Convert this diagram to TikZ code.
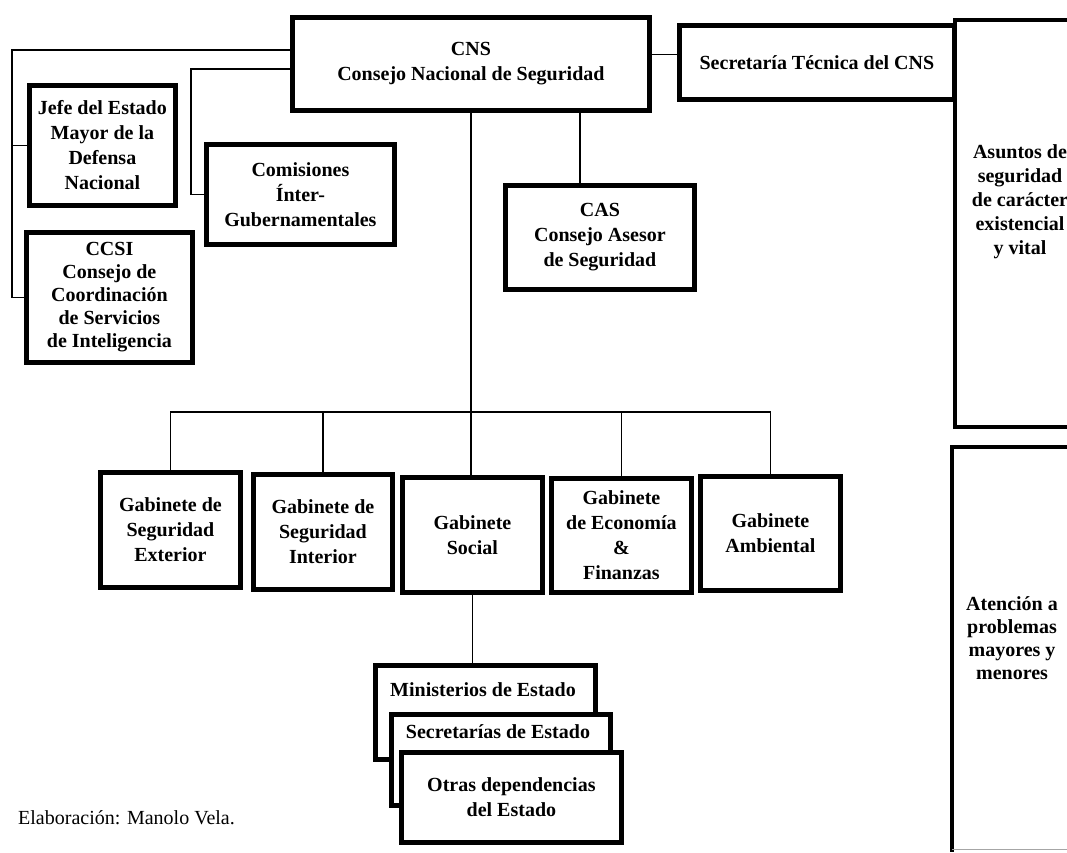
\documentclass[tikz,border=0pt]{standalone}
\usepackage{fontspec}
\setmainfont{Liberation Serif}
\begin{document}
\begin{tikzpicture}[x=1pt,y=-1pt,
  orgbox/.style={draw, line width=4.8pt, fill=white, inner sep=0pt, align=center,
    anchor=north west, font=\fontsize{20}{25}\selectfont\bfseries},
  boxtext/.style={inner sep=0pt, align=center, font=\fontsize{20}{25}\selectfont\bfseries},
  sidetext/.style={inner sep=0pt, align=center, font=\fontsize{20}{24}\selectfont\bfseries},
  sideline/.style={line width=3.4pt},
  link/.style={line width=1.8pt}]
\useasboundingbox (0,0) rectangle (1067,852);
\begin{scope}
\clip (0,0) rectangle (1067,852);

% central council and its staff
\node[orgbox, minimum width=357pt, minimum height=93pt] (cns) at (290,15)
  {CNS\\Consejo Nacional de Seguridad};
\node[orgbox, minimum width=275pt, minimum height=74pt] (sec) at (677,23)
  {Secretaría Técnica del CNS};
\node[orgbox, minimum width=189pt, minimum height=104pt] (cas) at (503,183)
  {CAS\\Consejo Asesor\\de Seguridad};

% left-hand bodies
\node[orgbox, minimum width=146pt, minimum height=120pt] (jefe) at (27,83)
  {Jefe del Estado\\Mayor de la\\Defensa\\Nacional};
\node[orgbox, minimum width=166pt, minimum height=130pt, font=\fontsize{20}{23}\selectfont\bfseries] (ccsi) at (24,230)
  {CCSI\\Consejo de\\Coordinación\\de Servicios\\de Inteligencia};
\node[orgbox, minimum width=188pt, minimum height=100pt] (comis) at (204,142)
  {Comisiones\\Ínter-\\Gubernamentales};

% cabinets
\node[orgbox, minimum width=140pt, minimum height=115pt] (ext) at (98,470)
  {Gabinete de\\Seguridad\\Exterior};
\node[orgbox, minimum width=139pt, minimum height=115pt] (int) at (251,472)
  {Gabinete de\\Seguridad\\Interior};
\node[orgbox, minimum width=140pt, minimum height=115pt] (social) at (400,475)
  {Gabinete\\Social};
\node[orgbox, minimum width=140pt, minimum height=114pt] (eco) at (549,476)
  {Gabinete\\de Economía\\\&\\Finanzas};
\node[orgbox, minimum width=140pt, minimum height=114pt] (amb) at (698,474)
  {Gabinete\\Ambiental};

% stacked state agencies
\node[orgbox, minimum width=220pt, minimum height=94pt] (min) at (373,663) {};
\node[boxtext] at (483,690) {Ministerios de Estado};
\node[orgbox, minimum width=219pt, minimum height=91pt] (secest) at (389,712) {};
\node[boxtext] at (498,732) {Secretarías de Estado};
\node[orgbox, minimum width=220pt, minimum height=90pt] (otras) at (399,750)
  {Otras dependencias\\del Estado};

% connectors
\coordinate (lbus) at (12,50);
\draw[link] (cns.west |- lbus) -- (lbus) |- (ccsi.west);
\draw[link] (lbus |- jefe.west) -- (jefe.west);
\coordinate (cbus) at (191,69);
\draw[link] (cns.west |- cbus) -- (cbus) |- (comis.west);
\draw[link] ([yshift=8pt]sec.west -| cns.east) -- ([yshift=8pt]sec.west);
\draw[link] ([xshift=-20pt]cas.north |- cns.south) -- ([xshift=-20pt]cas.north);
\draw[link] (cns.south) -- (cns.south |- social.north);
\coordinate (gbus) at (0,412);
\draw[link] (ext.north) -- (ext.north |- gbus) -- (amb.north |- gbus) -- (amb.north);
\draw[link] (int.north |- gbus) -- (int.north);
\draw[link] (eco.north |- gbus) -- (eco.north);
\draw[link] (social.south) -- (social.south |- min.north);

% right-hand column
\draw[sideline] (1090,20) -- (955,20) -- (955,427) -- (1090,427);
\node[sidetext] (asuntos) at (1020,202)
  {Asuntos de\\seguridad\\de carácter\\existencial\\y vital};
\draw[sideline] (1090,447) -- (952,447) -- (952,852);
\draw[line width=0.8pt, black!35] (952,849) -- (1067,849);
\node[sidetext, font=\fontsize{20}{23}\selectfont\bfseries] (atencion) at (1012,638)
  {Atención a\\problemas\\mayores y\\menores};

% credit line
\node[inner sep=0pt, anchor=west, font=\fontsize{20}{24}\selectfont] (credit) at (18,818)
  {Elaboración: Manolo Vela.};
\end{scope}
\end{tikzpicture}
\end{document}
